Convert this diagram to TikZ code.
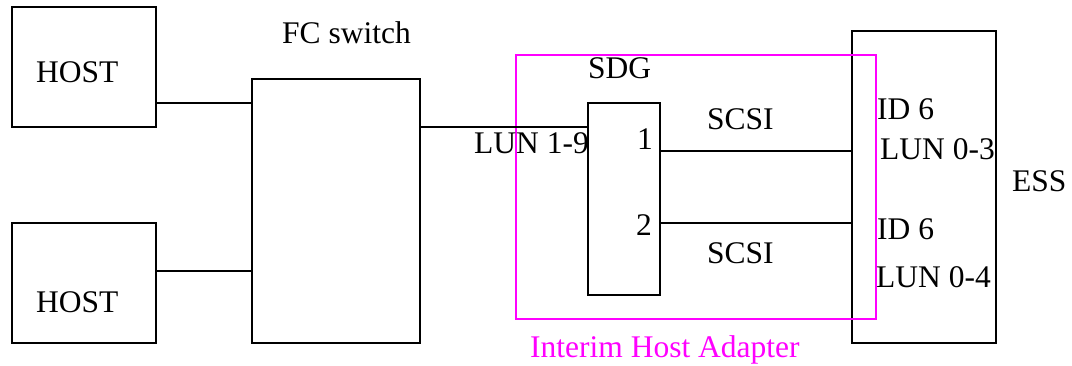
\documentclass[tikz,border=0pt]{standalone}
\usepackage{fontspec}
\setmainfont{Liberation Serif}
\definecolor{mag}{RGB}{255,0,255}
\begin{document}
\begin{tikzpicture}[x=1pt,y=-1pt,
  box/.style={draw=black,line width=1.6pt,rectangle,inner sep=0pt},
  lbl/.style={inner sep=0pt,anchor=base west,font=\fontsize{31.5}{36}\selectfont},
  wire/.style={draw=black,line width=1.6pt}]
\useasboundingbox (0,0) rectangle (1072,366);
% boxes
\node[box,minimum width=144pt,minimum height=120pt] (host1) at (84,67) {};
\node[box,minimum width=144pt,minimum height=120pt] (host2) at (84,283) {};
\node[box,minimum width=168pt,minimum height=264pt] (fc) at (336,211) {};
\node[box,minimum width=72pt,minimum height=192pt] (sdg) at (624,199) {};
\node[box,minimum width=144pt,minimum height=312pt] (ess) at (924,187) {};
\node[draw=mag,line width=1.6pt,rectangle,inner sep=0pt,minimum width=360pt,minimum height=264pt] (iha) at (696,187) {};
% labels
\node[lbl] (t1) at (36,83) {HOST};
\node[lbl] (t2) at (36,313) {HOST};
\node[lbl] (t3) at (282,44) {FC switch};
\node[lbl] (t4) at (588,79) {SDG};
\node[lbl,anchor=base east] (t5) at (589,154) {LUN 1-9};
\node[lbl] (t6) at (637,150) {1};
\node[lbl] (t7) at (636,236) {2};
\node[lbl] (t8) at (707,130) {SCSI};
\node[lbl] (t9) at (707,264) {SCSI};
\node[lbl] (t10) at (877,120) {ID 6};
\node[lbl] (t11) at (880,160) {LUN 0-3};
\node[lbl] (t12) at (1012,192) {ESS};
\node[lbl] (t13) at (877,240) {ID 6};
\node[lbl] (t14) at (876,288) {LUN 0-4};
\node[lbl,text=mag] (t15) at (530,358) {Interim Host Adapter};
% connectors
\draw[wire] (host1.east |- 0,103) -- (fc.west |- 0,103);
\draw[wire] (host2.east |- 0,271) -- (fc.west |- 0,271);
\draw[wire] (fc.east |- 0,127) -- (sdg.west |- 0,127);
\draw[wire] (sdg.east |- 0,151) -- (ess.west |- 0,151);
\draw[wire] (sdg.east |- 0,223) -- (ess.west |- 0,223);
\end{tikzpicture}
\end{document}
